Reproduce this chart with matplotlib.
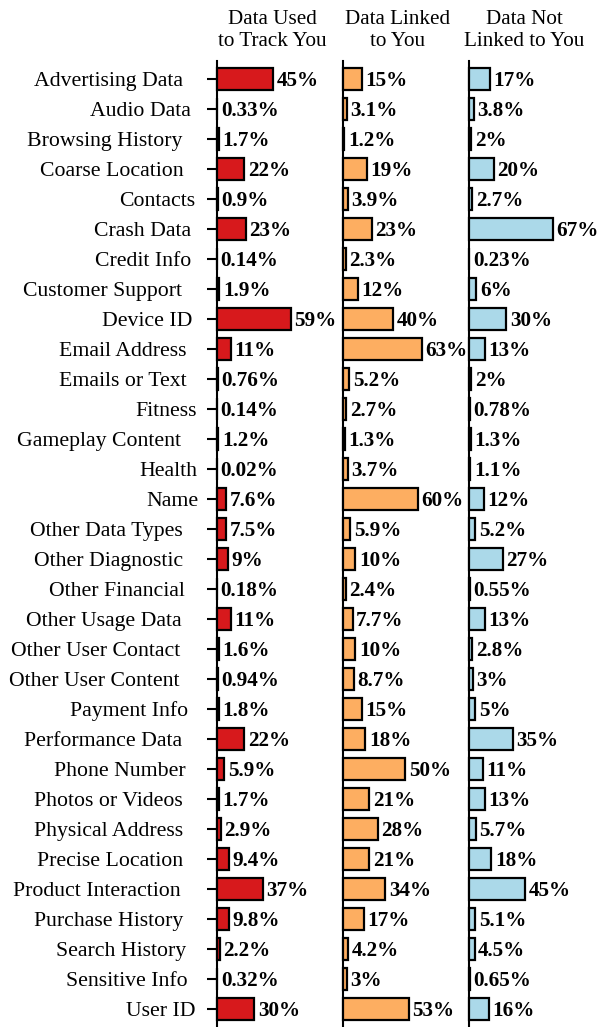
import matplotlib
matplotlib.use("Agg")
import matplotlib.pyplot as plt
import matplotlib.transforms as mtransforms

categories = [
    "Advertising Data", "Audio Data", "Browsing History", "Coarse Location",
    "Contacts", "Crash Data", "Credit Info", "Customer Support", "Device ID",
    "Email Address", "Emails or Text", "Fitness", "Gameplay Content", "Health",
    "Name", "Other Data Types", "Other Diagnostic", "Other Financial",
    "Other Usage Data", "Other User Contact", "Other User Content",
    "Payment Info", "Performance Data", "Phone Number", "Photos or Videos",
    "Physical Address", "Precise Location", "Product Interaction",
    "Purchase History", "Search History", "Sensitive Info", "User ID",
]
track = [45, 0.33, 1.7, 22, 0.9, 23, 0.14, 1.9, 59, 11, 0.76, 0.14, 1.2, 0.02,
         7.6, 7.5, 9, 0.18, 11, 1.6, 0.94, 1.8, 22, 5.9, 1.7, 2.9, 9.4, 37,
         9.8, 2.2, 0.32, 30]
linked = [15, 3.1, 1.2, 19, 3.9, 23, 2.3, 12, 40, 63, 5.2, 2.7, 1.3, 3.7,
          60, 5.9, 10, 2.4, 7.7, 10, 8.7, 15, 18, 50, 21, 28, 21, 34,
          17, 4.2, 3, 53]
not_linked = [17, 3.8, 2, 20, 2.7, 67, 0.23, 6, 30, 13, 2, 0.78, 1.3, 1.1,
              12, 5.2, 27, 0.55, 13, 2.8, 3, 5, 35, 11, 13, 5.7, 18, 45,
              5.1, 4.5, 0.65, 16]
titles = ["Data Used\nto Track You", "Data Linked\nto You", "Data Not\nLinked to You"]
colors = ["#d7191c", "#fdae61", "#abd9e9"]
series = [track, linked, not_linked]

plt.rcParams['font.family'] = ['Liberation Serif', 'DejaVu Serif']
FS = 15.2
FS_CAT = 15.7
W, H = 601, 1027
fig = plt.figure(figsize=(W / 100, H / 100), dpi=100)

spines_px = [217, 343, 469]
ax_w_px = 110
ax_top_px = 61
px_per_unit = 1.247
title_baselines_px = [24, 46]
n = len(categories)
axes = []
for k, (vals, col, title) in enumerate(zip(series, colors, titles)):
    ax = fig.add_axes([spines_px[k] / W, 0, ax_w_px / W, (H - ax_top_px) / H])
    ax.barh(range(n), vals, height=0.72, color=col, edgecolor='black',
            linewidth=1.6, clip_on=False, zorder=5)
    ax.set_xlim(0, ax_w_px / px_per_unit)
    ax.set_ylim(n - 1 + 0.6, -0.6)
    for s in ['top', 'right', 'bottom']:
        ax.spines[s].set_visible(False)
    ax.spines['left'].set_linewidth(1.5)
    ax.spines['left'].set_zorder(4)
    ax.set_xticks([])
    ax.set_yticks(range(n))
    ax.tick_params(axis='y', labelleft=False, length=(7.3 if k == 0 else 0),
                   width=1.5)
    ax.patch.set_alpha(0)
    off = mtransforms.offset_copy(ax.transData, fig=fig, x=3.5, y=0, units='dots')
    for i, v in enumerate(vals):
        ax.text(v, i, f"{v:g}%", transform=off, ha='left', va='center_baseline',
                fontsize=FS, fontweight='bold', clip_on=False)
    for line, yb in zip(title.split("\n"), title_baselines_px):
        fig.text((spines_px[k] + ax_w_px / 2) / W, 1 - yb / H, line,
                 ha='center', va='baseline', fontsize=FS)
    axes.append(ax)

# category labels, measured then positioned left of the tick
ax1 = axes[0]
fig.canvas.draw()
r = fig.canvas.get_renderer()
for i, c in enumerate(categories):
    t = ax1.text(0, i, c, ha='left', va='center_baseline', fontsize=FS_CAT,
                 transform=ax1.transData)
    w = t.get_window_extent(r).width
    t.set_transform(mtransforms.offset_copy(ax1.transData, fig=fig,
                                            x=-(10 + 1.16 * w), y=0, units='dots'))

fig.savefig("out.png", dpi=100)
